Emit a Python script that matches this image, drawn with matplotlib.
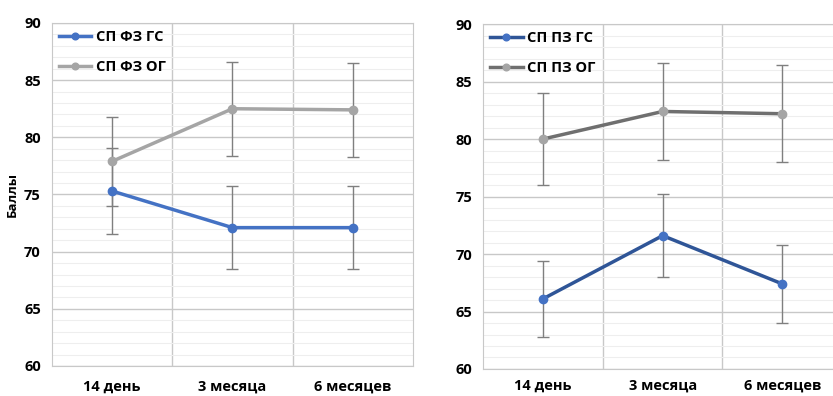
import matplotlib
matplotlib.use("Agg")
import matplotlib.pyplot as plt
from matplotlib.ticker import MultipleLocator

plt.rcParams['font.family'] = ['Open Sans', 'DejaVu Sans']

categories = ['14 день', '3 месяца', '6 месяцев']

# left panel: СП ФЗ
fz_gs = [75.3, 72.1, 72.1]
fz_gs_err = [3.8, 3.6, 3.6]
fz_og = [77.9, 82.5, 82.4]
fz_og_err = [3.9, 4.1, 4.1]

# right panel: СП ПЗ
pz_gs = [66.1, 71.6, 67.4]
pz_gs_err = [3.3, 3.6, 3.4]
pz_og = [80.0, 82.4, 82.2]
pz_og_err = [4.0, 4.2, 4.2]


def style_axis(ax, xpad):
    ax.set_xlim(-0.5, 2.5)
    ax.set_ylim(60, 90)
    ax.yaxis.set_major_locator(MultipleLocator(5))
    ax.yaxis.set_minor_locator(MultipleLocator(1))
    ax.set_xticks([0, 1, 2])
    ax.set_xticks([0.5, 1.5], minor=True)
    ax.set_xticklabels(categories, fontsize=10.5, fontweight='bold')
    for t in ax.get_yticklabels():
        t.set_fontsize(10.5)
        t.set_fontweight('bold')
    ax.grid(which='major', axis='y', color='#c8c8c8', lw=1)
    ax.grid(which='minor', axis='y', color='#eeeeee', lw=0.8)
    ax.grid(which='minor', axis='x', color='#c8c8c8', lw=1)
    ax.tick_params(which='both', length=0)
    ax.tick_params(axis='x', pad=xpad)
    ax.tick_params(axis='y', pad=8)
    for s in ax.spines.values():
        s.set_color('#c8c8c8')
    ax.set_axisbelow(True)


def draw(ax, y1, e1, c1, m1, name1, y2, e2, c2, m2, name2, xpad):
    x = range(len(categories))
    ax.errorbar(x, y1, yerr=e1, fmt='none', ecolor='#7f7f7f', elinewidth=1,
                capsize=4, capthick=1, zorder=2)
    ax.errorbar(x, y2, yerr=e2, fmt='none', ecolor='#7f7f7f', elinewidth=1,
                capsize=4, capthick=1, zorder=2)
    ax.plot(x, y1, color=c1, lw=2.5, marker='o', ms=6, mfc=m1, mec=m1,
            label=name1, zorder=3)
    ax.plot(x, y2, color=c2, lw=2.5, marker='o', ms=6, mfc=m2, mec=m2,
            label=name2, zorder=3)
    ax.legend(loc='upper left', frameon=False, handlelength=2.2,
              borderaxespad=0.1, labelspacing=1.1, handletextpad=0.3,
              markerscale=0.8, prop={'weight': 'bold', 'size': 10.5})
    style_axis(ax, xpad)


fig = plt.figure(figsize=(8.33, 3.96), dpi=100)
ax1 = fig.add_axes([0.0624, 0.0758, 0.4334, 0.8662])
ax2 = fig.add_axes([0.580, 0.0682, 0.431, 0.871])

draw(ax1, fz_gs, fz_gs_err, '#4472c4', '#4472c4', 'СП ФЗ ГС',
     fz_og, fz_og_err, '#a5a5a5', '#a5a5a5', 'СП ФЗ ОГ', 10)
ax1.set_ylabel('Баллы', fontsize=9.5, fontweight='bold', labelpad=4)

draw(ax2, pz_gs, pz_gs_err, '#2f5597', '#4472c4', 'СП ПЗ ГС',
     pz_og, pz_og_err, '#6f6f6f', '#a5a5a5', 'СП ПЗ ОГ', 7)

fig.savefig('out.png', dpi=100)
